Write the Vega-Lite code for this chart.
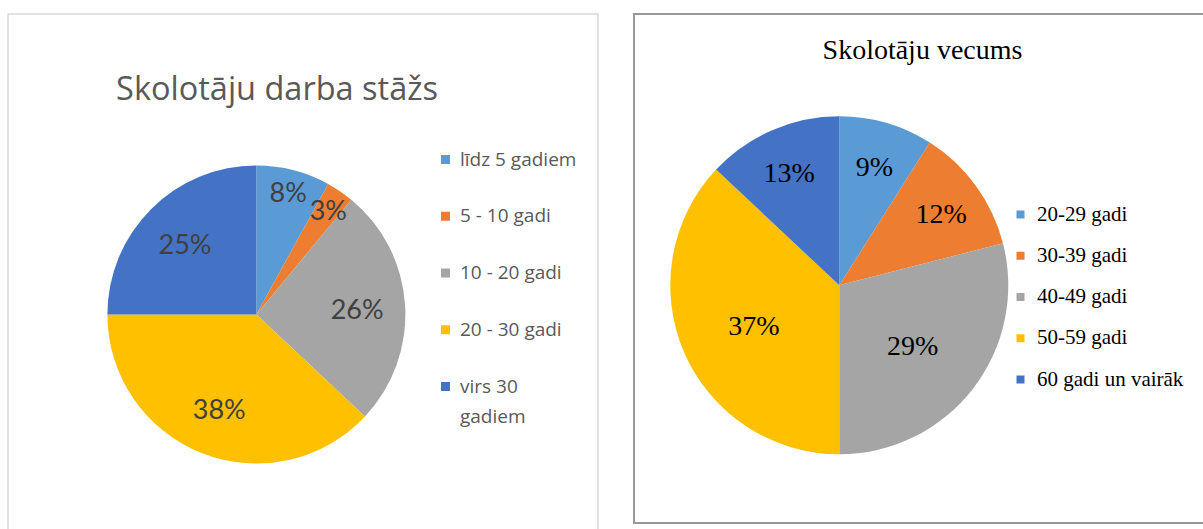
{
  "$schema": "https://vega.github.io/schema/vega-lite/v6.json",
  "padding": {"left": 7, "top": 13, "right": 0, "bottom": 0},
  "background": "white",
  "spacing": 34,
  "resolve": {"scale": {"color": "independent", "x": "independent", "y": "independent", "theta": "independent"}, "legend": {"color": "independent"}},
  "hconcat": [
    {
      "width": 590,
      "height": 530,
      "view": {"stroke": "#d9d9d9", "strokeWidth": 1.5},
      "title": {"text": "Skolotāju darba stāžs", "font": "Open Sans", "fontSize": 32.5, "fontWeight": "normal", "color": "#595959", "baseline": "alphabetic", "offset": -118, "dx": -26},
      "data": {"values": [
        {"n": 1, "kategorija": "līdz 5 gadiem", "dala": 0.08},
        {"n": 2, "kategorija": "5 - 10 gadi", "dala": 0.03},
        {"n": 3, "kategorija": "10 - 20 gadi", "dala": 0.26},
        {"n": 4, "kategorija": "20 - 30 gadi", "dala": 0.38},
        {"n": 5, "kategorija": "virs 30 gadiem", "dala": 0.25}
      ]},
      "encoding": {
        "theta": {"field": "dala", "type": "quantitative", "stack": true},
        "order": {"field": "n", "type": "quantitative"},
        "color": {
          "field": "kategorija", "type": "nominal",
          "sort": ["līdz 5 gadiem", "5 - 10 gadi", "10 - 20 gadi", "20 - 30 gadi", "virs 30 gadiem"],
          "scale": {"domain": ["līdz 5 gadiem", "5 - 10 gadi", "10 - 20 gadi", "20 - 30 gadi", "virs 30 gadiem"], "range": ["#5B9BD5", "#ED7D31", "#A5A5A5", "#FFC000", "#4472C4"]},
          "legend": {
            "title": null, "orient": "none", "legendX": 428, "legendY": 136,
            "symbolType": "square", "symbolSize": 81, "symbolStrokeWidth": 0,
            "labelFont": "Open Sans", "labelFontSize": 19, "labelColor": "#595959",
            "rowPadding": 36.75, "labelOffset": 5,
            "labelExpr": "datum.label == 'virs 30 gadiem' ? ['virs 30', 'gadiem'] : datum.label",
            "encode": {"labels": {"update": {"lineHeight": {"value": 30}}}}
          }
        },
        "x": {"datum": 0.421, "type": "quantitative", "scale": {"domain": [0, 1]}, "axis": null},
        "y": {"datum": 0.567, "type": "quantitative", "scale": {"domain": [0, 1], "reverse": true}, "axis": null}
      },
      "layer": [
        {"mark": {"type": "arc", "outerRadius": 149}},
        {
          "mark": {"type": "text", "radius": 101, "font": "Lato", "fontSize": 27, "dy": 3},
          "encoding": {
            "color": {"value": "#404040"},
            "text": {"condition": {"test": "datum.dala >= 0.1", "field": "dala", "format": ".0%"}, "value": ""}
          }
        },
        {
          "mark": {"type": "text", "radius": 128, "font": "Lato", "fontSize": 27, "dy": 3},
          "encoding": {
            "color": {"value": "#404040"},
            "text": {"condition": {"test": "datum.dala < 0.1", "field": "dala", "format": ".0%"}, "value": ""}
          }
        }
      ]
    },
    {
      "width": 575,
      "height": 509,
      "view": {"stroke": "#999999", "strokeWidth": 2},
      "title": {"text": "Skolotāju vecums", "font": "Liberation Serif", "fontSize": 28, "fontWeight": "normal", "color": "#000000", "baseline": "alphabetic", "offset": -73, "dx": 1},
      "data": {"values": [
        {"n": 1, "kategorija": "20-29 gadi", "dala": 0.09},
        {"n": 2, "kategorija": "30-39 gadi", "dala": 0.12},
        {"n": 3, "kategorija": "40-49 gadi", "dala": 0.29},
        {"n": 4, "kategorija": "50-59 gadi", "dala": 0.37},
        {"n": 5, "kategorija": "60 gadi un vairāk", "dala": 0.13}
      ]},
      "encoding": {
        "theta": {"field": "dala", "type": "quantitative", "stack": true},
        "order": {"field": "n", "type": "quantitative"},
        "color": {
          "field": "kategorija", "type": "nominal",
          "sort": ["20-29 gadi", "30-39 gadi", "40-49 gadi", "50-59 gadi", "60 gadi un vairāk"],
          "scale": {"domain": ["20-29 gadi", "30-39 gadi", "40-49 gadi", "50-59 gadi", "60 gadi un vairāk"], "range": ["#5B9BD5", "#ED7D31", "#A5A5A5", "#FFC000", "#4472C4"]},
          "legend": {
            "title": null, "orient": "none", "legendX": 376, "legendY": 190,
            "symbolType": "square", "symbolSize": 64, "symbolStrokeWidth": 0,
            "labelFont": "Liberation Serif", "labelFontSize": 21, "labelColor": "#000000",
            "rowPadding": 19.25, "labelOffset": 6
          }
        },
        "x": {"datum": 0.357, "type": "quantitative", "scale": {"domain": [0, 1]}, "axis": null},
        "y": {"datum": 0.533, "type": "quantitative", "scale": {"domain": [0, 1], "reverse": true}, "axis": null}
      },
      "layer": [
        {"mark": {"type": "arc", "outerRadius": 169}},
        {
          "mark": {"type": "text", "radius": 93, "font": "Liberation Serif", "fontSize": 28, "dy": 5},
          "encoding": {
            "color": {"value": "#000000"},
            "text": {"condition": {"test": "datum.dala >= 0.2", "field": "dala", "format": ".0%"}, "value": ""}
          }
        },
        {
          "mark": {"type": "text", "radius": 126, "font": "Liberation Serif", "fontSize": 28, "dy": 4},
          "encoding": {
            "color": {"value": "#000000"},
            "text": {"condition": {"test": "datum.dala < 0.2", "field": "dala", "format": ".0%"}, "value": ""}
          }
        }
      ]
    }
  ]
}
